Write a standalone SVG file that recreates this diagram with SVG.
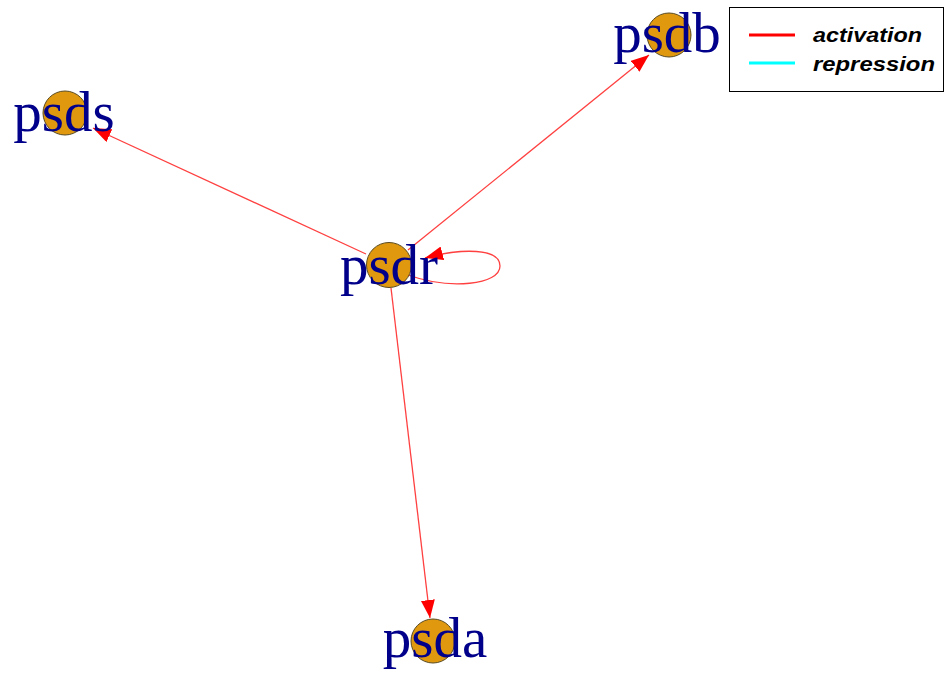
<svg xmlns="http://www.w3.org/2000/svg" width="946" height="675" viewBox="0 0 946 675">
<defs>
<marker id="arr" markerUnits="userSpaceOnUse" markerWidth="20" markerHeight="14" refX="18" refY="7" orient="auto">
<path d="M0,0 L18,7 L0,14 Z" fill="#ff0000"/>
</marker>
<style>
.edge{stroke:#ff4040;stroke-width:1.3;fill:none;marker-end:url(#arr)}
.node{fill:#e0990f;stroke:#5a4a20;stroke-width:1}
.lbl{font-family:"Liberation Serif",serif;font-size:57px;fill:#00008b;text-anchor:middle}
.leg{font-family:"Liberation Sans",sans-serif;font-size:21px;font-style:italic;font-weight:bold;fill:#000}
</style>
</defs>
<rect width="946" height="675" fill="#fff"/>
<g id="connectors">
<path class="edge" d="M366,254 L93,128"/>
<path class="edge" d="M408,250 L649,55"/>
<path class="edge" d="M391,288 L430,618"/>
<path class="edge" d="M408,275 C450,290 500,285 500,266 C500,248 462,248 425,258"/>
</g>
<g id="psdr"><circle class="node" cx="389" cy="265" r="22.5"/><text class="lbl" x="389" y="284">psdr</text></g>
<g id="psdb"><circle class="node" cx="669" cy="35" r="22"/><text class="lbl" x="667" y="52">psdb</text></g>
<g id="psds"><circle class="node" cx="65" cy="113" r="22"/><text class="lbl" x="64" y="131">psds</text></g>
<g id="psda"><circle class="node" cx="433" cy="641" r="22"/><text class="lbl" x="435" y="657">psda</text></g>
<g id="legend">
<rect x="729.5" y="7.5" width="214" height="84" fill="#fff" stroke="#000" stroke-width="1"/>
<line x1="749" y1="35" x2="795" y2="35" stroke="#ff0000" stroke-width="3"/>
<line x1="749" y1="63" x2="795" y2="63" stroke="#00ffff" stroke-width="3"/>
<text class="leg" x="813" y="42" textLength="109" lengthAdjust="spacingAndGlyphs">activation</text>
<text class="leg" x="813" y="71" textLength="122" lengthAdjust="spacingAndGlyphs">repression</text>
</g>
</svg>
